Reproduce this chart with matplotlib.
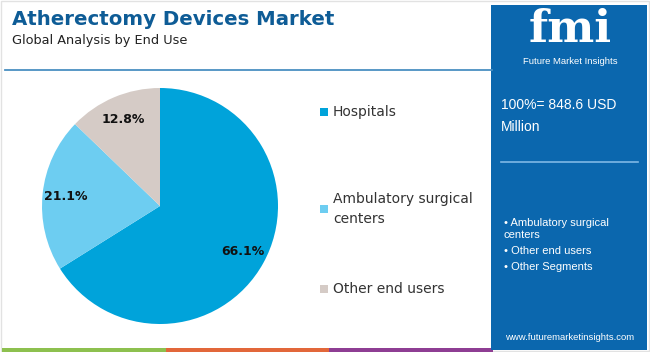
import matplotlib.pyplot as plt
from matplotlib.patches import Rectangle

# data
segments = ['Hospitals', 'Ambulatory surgical\ncenters', 'Other end users']
shares = [66.1, 21.1, 12.8]
colors = ['#00A3DA', '#6DCDF1', '#D5CBC6']
total_text = '100%= 848.6 USD\nMillion'
other_segments = ['• Ambulatory surgical\ncenters', '• Other end users', '• Other Segments']

W, H = 650, 352
fig = plt.figure(figsize=(6.5, 3.52), dpi=100)
fig.patch.set_facecolor('white')

# background layer in pixel coords
bg = fig.add_axes([0, 0, 1, 1])
bg.set_xlim(0, W)
bg.set_ylim(H, 0)
bg.axis('off')

bg.add_patch(Rectangle((1, 1), W - 2, H - 2, fill=False, edgecolor='#E2E2E2', lw=1))
bg.plot([5, 492], [70, 70], color='#4A90C2', lw=1.3)

bg.text(12, 25, 'Atherectomy Devices Market', fontsize=14.2, fontweight='bold',
        color='#0E5C96', family='DejaVu Sans', va='baseline')
bg.text(12, 44, 'Global Analysis by End Use', fontsize=9.3, color='#222222',
        family='DejaVu Sans', va='baseline')

# bottom colour strip
strip = [(2, 166, '#8DC04F'), (166, 329, '#E2673A'), (329, 493, '#8E3E93')]
for x0, x1, c in strip:
    bg.add_patch(Rectangle((x0, 348), x1 - x0, 4, color=c, lw=0))

# right panel
panel_font = 'Liberation Sans'
bg.add_patch(Rectangle((491, 5), 156, 345, color='#0B67AE', lw=0))
bg.text(570, 51, 'fmi', fontsize=32, fontweight='bold', color='white',
        family='DejaVu Serif', ha='center', va='bottom')
bg.text(570, 61, 'Future Market Insights', fontsize=6.8, color='white',
        family=panel_font, ha='center', va='center')
bg.text(501, 116, total_text, fontsize=10, color='white', family=panel_font,
        va='center', linespacing=1.7)
bg.plot([501, 638], [162, 162], color='#7FB8E6', lw=1.2)
bg.text(504, 229, other_segments[0], fontsize=8, color='white', va='center',
        family=panel_font, linespacing=1.3)
bg.text(504, 251, other_segments[1], fontsize=8, color='white', va='center',
        family=panel_font)
bg.text(504, 267, other_segments[2], fontsize=8, color='white', va='center',
        family=panel_font)
bg.text(570, 337, 'www.futuremarketinsights.com', fontsize=6.8, color='white',
        family=panel_font, ha='center', va='center')

# legend
leg_y = [112, 209, 289]
for lab, c, y in zip(segments, colors, leg_y):
    bg.add_patch(Rectangle((320, y - 4), 8, 8, color=c, lw=0))
    bg.text(333, y, lab, fontsize=10, color='#333333',
            family='DejaVu Sans', va='center', linespacing=1.5)

# pie
cx, cy, r = 160, 206, 118
ax = fig.add_axes([(cx - r) / W, (H - cy - r) / H, 2 * r / W, 2 * r / H])
wedges, _, autotexts = ax.pie(shares, colors=colors, startangle=90, counterclock=False,
                              autopct='%.1f%%', pctdistance=0.8,
                              wedgeprops=dict(linewidth=0))
for t in autotexts:
    t.set_fontsize(9)
    t.set_fontweight('heavy')
    t.set_color('#111111')
ax.set_xlim(-1, 1)
ax.set_ylim(-1, 1)

fig.savefig('out.png', dpi=100)
